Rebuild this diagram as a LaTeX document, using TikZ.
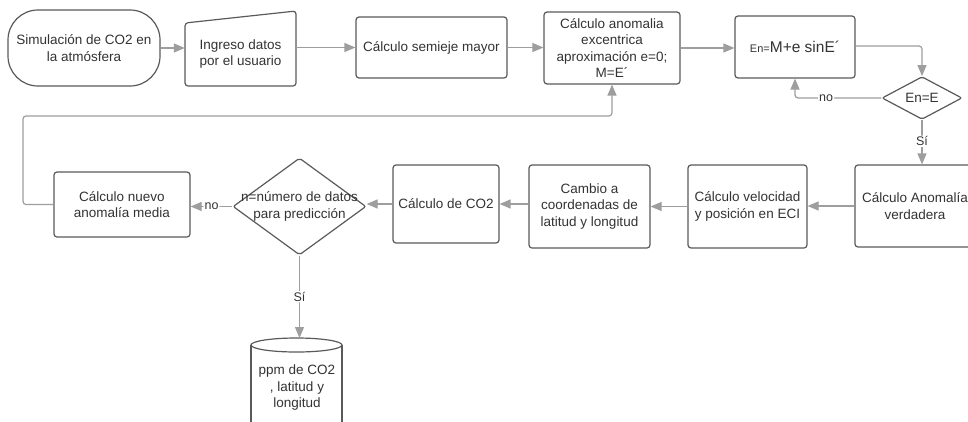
\documentclass[tikz,border=0pt]{standalone}
\usepackage{fontspec}
\setmainfont{Liberation Sans}
\usetikzlibrary{arrows.meta,shapes.geometric,calc}
\definecolor{bordc}{HTML}{5A5A5A}
\definecolor{arrc}{HTML}{9E9E9E}
\definecolor{txtc}{HTML}{333333}
\tikzset{
  box/.style={draw=bordc, line width=1.2pt, rounded corners=3pt, align=center, text=txtc,
    font=\fontsize{13.5}{16.5}\selectfont, inner sep=2pt},
  ghost/.style={align=center, text=txtc, font=\fontsize{13.5}{16.5}\selectfont, inner sep=0pt},
  arr/.style={draw=arrc, line width=1.2pt, rounded corners=3pt, -{Triangle[length=11pt,width=9pt]}},
  elab/.style={fill=white, text=txtc, font=\fontsize{12.5}{14}\selectfont, inner sep=1pt},
  shapeline/.style={draw=bordc, line width=1.2pt, rounded corners=3pt},
}
\begin{document}
\begin{tikzpicture}[x=1pt,y=-1pt]
\clip (0,0) rectangle (968,421);
\fill[white] (0,0) rectangle (968,421);
% top row
\node[box, rounded corners=30pt, minimum width=152pt, minimum height=76pt] (n1) at (84,48) {Simulación de CO2 en\\la atmósfera};
\node[ghost, minimum width=111pt, minimum height=64pt] (n2) at (240.5,54) {Ingreso datos\\por el usuario};
\draw[shapeline] (185,23) -- (296,11) -- (296,86) -- (185,86) -- cycle;
\node[box, minimum width=151pt, minimum height=61pt] (n3) at (431.5,47.5) {Cálculo semieje mayor};
\node[box, minimum width=136pt, minimum height=72pt] (n4) at (612,48) {Cálculo anomalia\\excentrica\\aproximación e=0;\\M=E´};
\node[box, minimum width=120pt, minimum height=62pt] (n5) at (795,47) {{\fontsize{11}{13}\selectfont En=}{\fontsize{15.5}{18}\selectfont M+e sinE´}};
\node[diamond, draw=bordc, line width=1.2pt, rounded corners=2pt, minimum width=80pt, minimum height=38pt, inner sep=0pt, text=txtc, font=\fontsize{13.5}{16}\selectfont] (d1) at (922,98) {En=E};
% bottom row
\node[box, minimum width=120pt, minimum height=82pt] (n7) at (915,206) {Cálculo Anomalía\\verdadera};
\node[box, minimum width=119pt, minimum height=83pt] (n8) at (747.5,206.5) {Cálculo velocidad\\y posición en ECI};
\node[box, minimum width=121pt, minimum height=83pt] (n9) at (589.5,206.5) {Cambio a\\coordenadas de\\latitud y longitud};
\node[box, minimum width=106pt, minimum height=78pt] (n10) at (446,204) {Cálculo de CO2};
\node[diamond, draw=bordc, line width=1.2pt, rounded corners=2pt, minimum width=133pt, minimum height=97pt, inner sep=0pt,
  label={[ghost]center:n=número de datos\\para predicción}] (d2) at (299.5,206.5) {};
\node[box, minimum width=136pt, minimum height=65pt] (n12) at (122,204.5) {Cálculo nuevo\\anomalía media};
% cylinder
\node[ghost, minimum width=91pt, minimum height=100pt, anchor=north] (n13) at (299.5,338) {};
\draw[shapeline, rounded corners=0pt] (251,345) -- (251,440) -- (342,440) -- (342,345);
\draw[shapeline, rounded corners=0pt] (296.5,345) ellipse [x radius=45.5, y radius=7];
\node[ghost] (n13t) at (297,388) {ppm de CO2\\, latitud y\\longitud};
% connectors
\draw[arr] (n1.east) -- (n1.east -| n2.west);
\draw[arr] (n3.west -| n2.east) -- (n3.west);
\draw[arr] (n3.east) -- (n3.east -| n4.west);
\draw[arr] (n4.east) -- (n4.east -| n5.west);
\draw[arr] ($(n5.east)+(0,-1)$) -| (d1.north);
\draw[arr] (d1.west) -| node[elab, pos=0.32] {no} (n5.south);
\draw[arr] (d1.south) -- node[elab, pos=0.48] {Sí} (d1.south |- n7.north);
\draw[arr] (n7.west) -- (n7.west -| n8.east);
\draw[arr] (n8.west) -- (n8.west -| n9.east);
\draw[arr] (n10.east -| n9.west) -- (n10.east);
\draw[arr] (n10.west) -- (n10.west -| d2.east);
\draw[arr] (d2.west) -- node[elab, pos=0.5] {no} (d2.west -| n12.east);
\draw[arr] (d2.south) -- node[elab, pos=0.5] {Sí} (n13.north);
\coordinate (lp) at (23,116);
\draw[arr] (n12.west) -| (lp) -| (n4.south);
\end{tikzpicture}
\end{document}
